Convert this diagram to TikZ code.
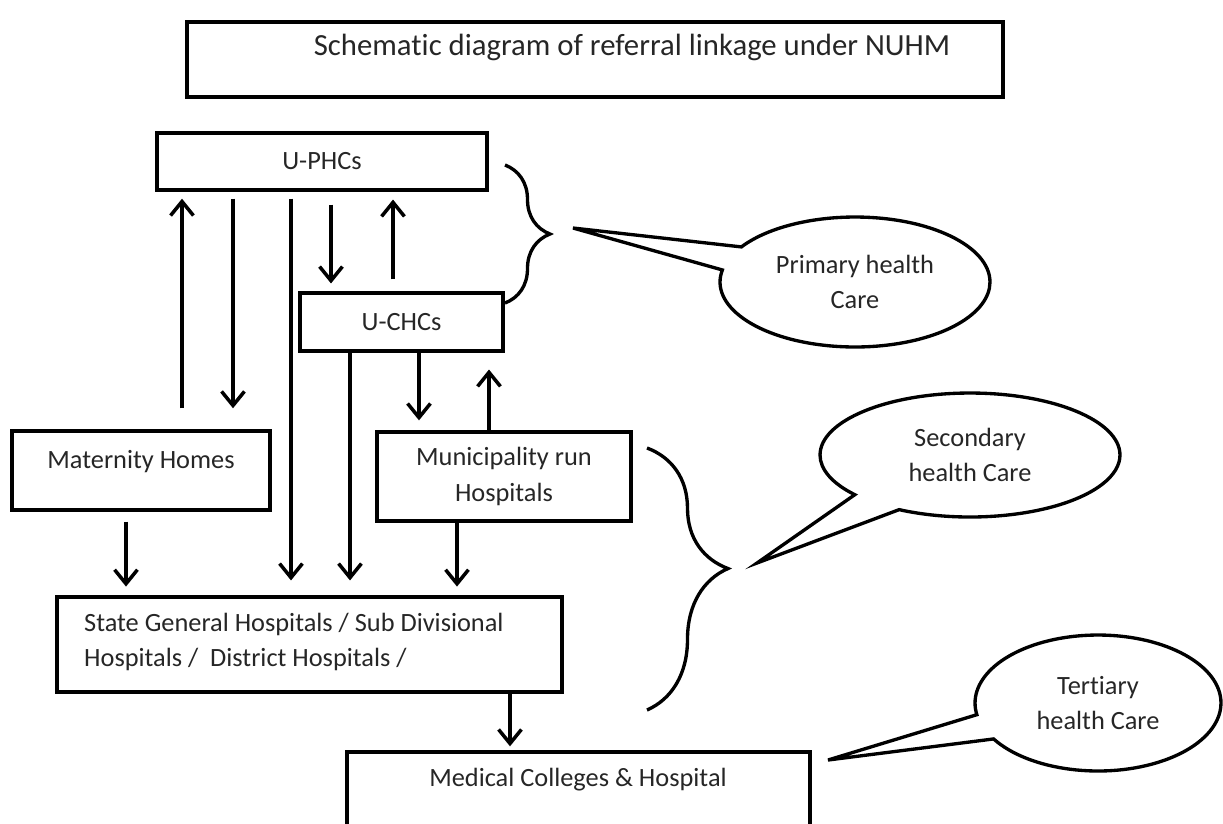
\documentclass[tikz,border=0pt]{standalone}
\usepackage{fontspec}
\setmainfont{Carlito}[Ligatures=NoCommon]
\usetikzlibrary{shapes.callouts,arrows.meta,decorations.pathreplacing}

\begin{document}
\begin{tikzpicture}[x=0.02cm,y=-0.02cm,
  every node/.style={text=black!85,font=\fontsize{15}{20}\selectfont},
  box/.style={draw,line width=1.9pt,inner sep=0pt},
  arr/.style={line width=2pt,-{Straight Barb[length=8pt,width=13pt]}},
  bubble/.style={ellipse callout,draw,line width=1.9pt,callout pointer arc=22,align=center,inner sep=0pt},
  brc/.style={decorate,decoration={brace,amplitude=#1},line width=1.9pt}]
\useasboundingbox (0,0) rectangle (1223,823);
\clip (0,0) rectangle (1223,823);

% title
\node[box,minimum width=16.32cm,minimum height=1.5cm] (titlebox) at (595,59.5) {};
\node[font=\fontsize{17.5}{21}\selectfont] (title) at (632,47) {Schematic diagram of referral linkage under NUHM};

% the units
\node[box,minimum width=6.6cm,minimum height=1.14cm] (phc) at (322,161.5) {U-PHCs};
\node[box,minimum width=4.06cm,minimum height=1.16cm] (chc) at (401.5,322) {U-CHCs};
\node[box,minimum width=5.16cm,minimum height=1.58cm] (mat) at (141,470.5) {};
\node (mattxt) at (141,462) {Maternity Homes};
\node[box,minimum width=5.08cm,minimum height=1.78cm,align=center] (mun) at (504,476.5) {Municipality run\\Hospitals};
\node[box,minimum width=10.1cm,minimum height=1.9cm] (sgh) at (309.5,644.5) {};
\node[anchor=west,align=left] (sghtxt) at (78,642) {State General Hospitals / Sub Divisional\\Hospitals /\ \ District Hospitals /};
\node[box,minimum width=9.26cm,minimum height=2cm] (med) at (578.5,802) {};
\node (medtxt) at (578,780) {Medical Colleges \& Hospital};

% referral arrows: x / from / to / gap at start / gap at tip
\foreach \xpos/\src/\dst/\gapa/\gapb in {
  182/mat.north/phc.south/12/4,
  233/phc.south/mat.north/4/12,
  291/phc.south/sgh.north/4/8.5,
  331/phc.south/chc.north/7.4/4.5,
  393/chc.north/phc.south/6.8/4.5,
  350/chc.south/sgh.north/0/8.5,
  419/chc.south/mun.north/0/5.7,
  489/mun.north/chc.south/0/9.6,
  126/mat.south/sgh.north/5.7/5,
  457/mun.south/sgh.north/0/5,
  510/sgh.south/med.north/0/2.3}
  \draw[arr,shorten <=\gapa pt,shorten >=\gapb pt] (\xpos,0 |- \src) -- (\xpos,0 |- \dst);

% braces
\draw[brc=0.9cm] (505,165) -- (505,303);
\draw[brc=1.62cm,decoration={aspect=0.46}] (647,448) -- (647,710);

% levels of care
\coordinate (ptip) at (573,228);
\coordinate (stip) at (757,563);
\coordinate (ttip) at (828,760);
\node[bubble,minimum width=5.4cm,minimum height=2.6cm,callout absolute pointer={(ptip)}] (primary) at (855,282) {Primary health\\Care};
\node[bubble,minimum width=6cm,minimum height=2.48cm,callout absolute pointer={(stip)}] (secondary) at (970,455) {Secondary\\health Care};
\node[bubble,minimum width=4.92cm,minimum height=2.72cm,callout absolute pointer={(ttip)}] (tertiary) at (1098,703) {Tertiary\\health Care};
\end{tikzpicture}
\end{document}
